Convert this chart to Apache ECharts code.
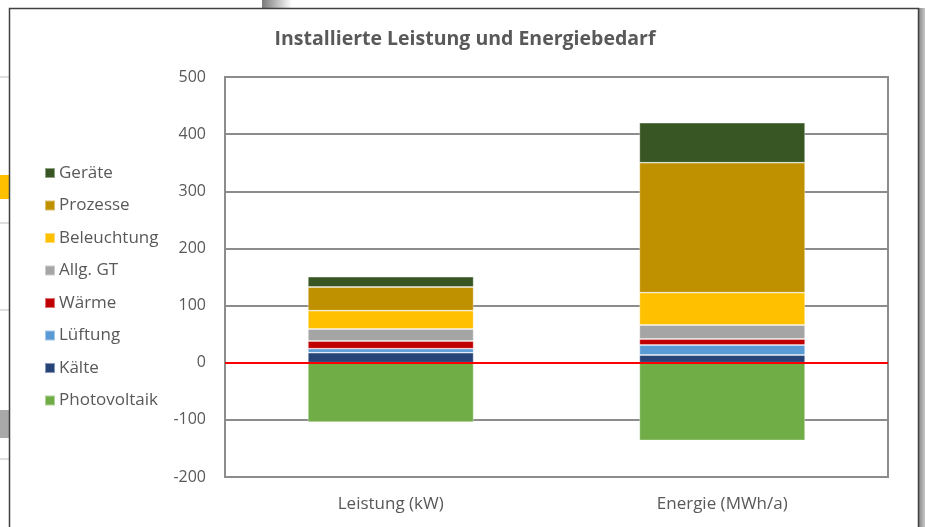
<!DOCTYPE html>
<html>
<head>
<meta charset="utf-8">
<script src="https://cdn.jsdelivr.net/npm/echarts@6/dist/echarts.min.js"></script>
<style>html,body{margin:0;padding:0;background:#fff;}#c{width:925px;height:527px;}</style>
</head>
<body>
<div id="c"></div>
<script>
const categories = ['Leistung (kW)', 'Energie (MWh/a)'];
const yTicks = [-200, -100, 0, 100, 200, 300, 400, 500];
const kaelte = [17.5, 13.5];
const lueftung = [7, 17.5];
const waerme = [13.5, 10.5];
const allgGT = [21, 24.5];
const beleuchtung = [32, 56.5];
const prozesse = [41.5, 227.5];
const geraete = [18, 70];
const photovoltaik = [-104, -136];

const seriesDefs = [
  ['Kälte', kaelte, '#264478'],
  ['Lüftung', lueftung, '#5B9BD5'],
  ['Wärme', waerme, '#C00000'],
  ['Allg. GT', allgGT, '#A5A5A5'],
  ['Beleuchtung', beleuchtung, '#FFC000'],
  ['Prozesse', prozesse, '#BF9000'],
  ['Geräte', geraete, '#375623'],
  ['Photovoltaik', photovoltaik, '#70AD47']
];
const legendOrder = ['Geräte','Prozesse','Beleuchtung','Allg. GT','Wärme','Lüftung','Kälte','Photovoltaik'];
const font = '"Open Sans", "Noto Sans", sans-serif';
const txt = '#595959';

const series = seriesDefs.map(([name, data, color]) => ({
  name, type: 'bar', stack: 'total', data, barWidth: '50%',
  itemStyle: { color, borderColor: 'rgba(255,255,255,0.45)', borderWidth: 0.8 },
  emphasis: { disabled: true }
}));
series[series.length - 1].markLine = {
  silent: true, symbol: 'none', label: { show: false },
  lineStyle: { color: '#FF0000', width: 2, type: 'solid' },
  data: [{ yAxis: 0 }], z: 10
};

const chart = echarts.init(document.getElementById('c'), null, { renderer: 'canvas' });
chart.setOption({
  animation: false,
  backgroundColor: '#fff',
  title: {
    text: 'Installierte Leistung und Energiebedarf',
    left: 460, top: 24, textAlign: 'center',
    textStyle: { color: txt, fontFamily: font, fontSize: 19.5, fontWeight: 'bold' }
  },
  legend: {
    orient: 'vertical', left: 39, top: 159,
    data: legendOrder, icon: 'rect', itemWidth: 10, itemHeight: 10, itemGap: 14.5,
    textStyle: { color: txt, fontFamily: font, fontSize: 17, lineHeight: 18, padding: [0, 0, 0, -1] },
    selectedMode: false
  },
  grid: { left: 225, right: 37, top: 77, bottom: 50, show: true, borderColor: '#8c8c8c', borderWidth: 2 },
  xAxis: {
    type: 'category', data: categories,
    axisLine: { show: false }, axisTick: { show: false },
    axisLabel: { color: txt, fontFamily: font, fontSize: 17, margin: 19 }
  },
  yAxis: {
    type: 'value', min: yTicks[0], max: yTicks[yTicks.length - 1], interval: 100,
    axisLine: { show: true, lineStyle: { color: '#8c8c8c', width: 2 } },
    axisTick: { show: false },
    splitLine: { lineStyle: { color: '#8c8c8c', width: 2 } },
    axisLabel: { color: txt, fontFamily: font, fontSize: 16, margin: 19 }
  },
  series,
  graphic: [
    { type: 'rect', silent: true, z: -10, shape: { x: 262, y: 0, width: 30, height: 8 },
      style: { fill: new echarts.graphic.LinearGradient(0, 0, 1, 0, [{offset: 0, color: '#7a7a7a'}, {offset: 1, color: '#ffffff'}]) } },
    { type: 'rect', silent: true, z: -10, shape: { x: 919, y: 8, width: 6, height: 519 },
      style: { fill: new echarts.graphic.LinearGradient(1, 0, 0, 0, [{offset: 0, color: '#c8c8c8'}, {offset: 1, color: '#8a8a8a'}]) } },
    { type: 'rect', silent: true, z: -10, shape: { x: 0, y: 175, width: 9, height: 24 }, style: { fill: '#FFC000' } },
    { type: 'rect', silent: true, z: -10, shape: { x: 0, y: 410, width: 9, height: 28 }, style: { fill: '#A9A9A9' } },
    { type: 'line', silent: true, z: -10, shape: { x1: 0, y1: 77, x2: 9, y2: 77 }, style: { stroke: '#bdbdbd', lineWidth: 1 } },
    { type: 'line', silent: true, z: -10, shape: { x1: 0, y1: 223, x2: 9, y2: 223 }, style: { stroke: '#bdbdbd', lineWidth: 1 } },
    { type: 'line', silent: true, z: -10, shape: { x1: 0, y1: 310, x2: 9, y2: 310 }, style: { stroke: '#bdbdbd', lineWidth: 1 } },
    { type: 'line', silent: true, z: -10, shape: { x1: 0, y1: 459, x2: 9, y2: 459 }, style: { stroke: '#bdbdbd', lineWidth: 1 } },
    { type: 'rect', silent: true, z: -5, shape: { x: 9.5, y: 8.5, width: 909, height: 530 },
      style: { fill: '#ffffff', stroke: '#404040', lineWidth: 1.5 } }
  ]
});
</script>
</body>
</html>
